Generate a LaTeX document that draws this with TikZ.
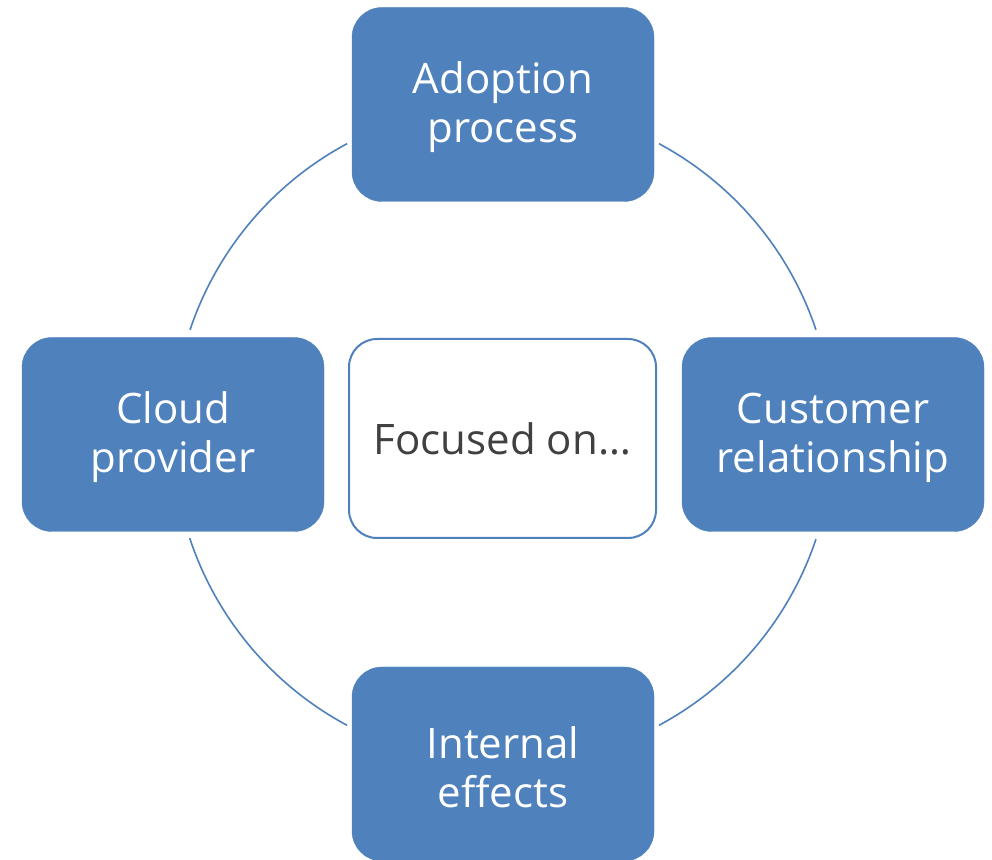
\documentclass[tikz,border=0pt]{standalone}
\usepackage{fontspec}
\setmainfont{Open Sans}
\definecolor{accent}{HTML}{4F81BD}
\definecolor{darktext}{HTML}{404040}
\begin{document}
\begin{tikzpicture}[x=1pt,y=1pt,
  bluebox/.style={rectangle, rounded corners=30pt, fill=accent, draw=accent,
    minimum width=302pt, minimum height=194pt, inner sep=0pt},
  boxlabel/.style={align=center, text=white, inner sep=0pt,
    font=\fontsize{42}{49}\selectfont},
  centerbox/.style={rectangle, rounded corners=28pt, fill=white, draw=accent, line width=2pt,
    minimum width=307pt, minimum height=199pt, align=center, text=darktext,
    font=\fontsize{42}{49}\selectfont, inner sep=0pt},
  ring/.style={draw=accent, line width=1.6pt}]
\useasboundingbox (0,0) rectangle (992,859);
\clip (0,0) rectangle (992,859);
\fill[white] (0,0) rectangle (992,859);
\coordinate (c) at (503,424.5);
\node[bluebox] (adopt) at (503,754.5) {};
\node[bluebox] (cloud) at (173,424.5) {};
\node[bluebox] (cust) at (833,424.5) {};
\node[bluebox] (intern) at (503,95) {};
\node[boxlabel] (adoptT) at ([yshift=-3pt]adopt.center) {Adoption\\process};
\node[boxlabel] (cloudT) at ([yshift=-3pt]cloud.center) {Cloud\\provider};
\node[boxlabel] (custT) at ([yshift=-3pt]cust.center) {Customer\\relationship};
\node[boxlabel] (internT) at ([yshift=-3pt]intern.center) {Internal\\effects};
\node[centerbox] (focus) at (502.5,420.5) {Focused on\ldots};
\draw[ring] (c) ++(18.5:330) arc[start angle=18.5, end angle=61.8, radius=330];
\draw[ring] (c) ++(118.2:330) arc[start angle=118.2, end angle=161.5, radius=330];
\draw[ring] (c) ++(198.3:330) arc[start angle=198.3, end angle=241.8, radius=330];
\draw[ring] (c) ++(298.2:330) arc[start angle=298.2, end angle=341.5, radius=330];
\end{tikzpicture}
\end{document}
